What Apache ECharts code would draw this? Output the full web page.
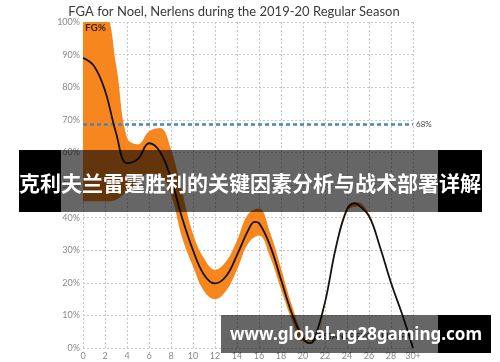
<!DOCTYPE html>
<html>
<head>
<meta charset="utf-8">
<script src="https://cdn.jsdelivr.net/npm/echarts@6/dist/echarts.min.js"></script>
<style>html,body{margin:0;padding:0;background:#fff;}#c{width:500px;height:362px;}</style>
</head>
<body>
<div id="c"></div>
<script>
const titleText = 'FGA for Noel, Nerlens during the 2019-20 Regular Season';
const distances = [0,1,2,3,4,5,6,7,8,9,10,11,12,13,14,15,15.6,16,17,18,19,20,20.6,21,22,23,24,24.7,25,26,27,28,29,30];
const fgPct = [89,86.5,79,66,56.7,58,62.8,60.2,52,40,30,22.5,19.8,22,28.5,36,38.7,38.3,31.5,21,10.5,3,1.5,2.5,14,31,42.5,44.4,44,40.5,31,20,10.5,0];
const bandDistances = ['0','1','2','3','4','5','6','7','8','9','10','11','12','13','14','15','16','17','18','19','20','21','22','23','24','25','26','27','28','29','30'];
const bandUpper = [100,100,102,87,64.5,62.5,66.5,67.5,61,48,35,27.5,24,26.5,33,41,42.8,35.5,24.5,13,4.5,3,14.5,31.5,43,44.6,41,31.4,20.4,10.8,0.3];
const bandLower = [45,45,45,45.5,48,51,53.5,53,47,34,25,17.5,15,17.5,24,32,34.5,28,18,8.5,2,2,13.5,30.5,42,43.4,40,30.6,19.6,10.2,0];
const leagueAvg = 68.5;
const leagueLabel = '68%';
const xTicks = [0,2,4,6,8,10,12,14,16,18,20,22,24,26,28,30];
const xLastLabel = '30+';
const xAxisName = 'DISTANCE FROM RIM (FT)';
const bannerTop = '克利夫兰雷霆胜利的关键因素分析与战术部署详解';
const bannerBottom = 'www.global-ng28gaming.com';

const linePairs = distances.map((d, i) => [d, fgPct[i]]);
const bandWidth = bandUpper.map((u, i) => +(u - bandLower[i]).toFixed(2));

const chart = echarts.init(document.getElementById('c'), null, {renderer: 'canvas'});
const gridLine = {show: true, lineStyle: {color: '#c8c8c8', type: [2, 2], width: 1}};
chart.setOption({
  animation: false,
  title: {
    text: titleText, left: 229, top: 0, textAlign: 'center',
    textStyle: {fontFamily: 'Lato', fontSize: 13, fontWeight: 'normal', color: '#3a3a3a'}
  },
  grid: {left: 83, right: 87, top: 22, bottom: 14, containLabel: false},
  xAxis: [{
    type: 'value', min: 0, max: 30, interval: 2,
    axisLine: {show: false}, axisTick: {show: false},
    axisLabel: {fontFamily: 'Lato', fontSize: 9, color: '#888', margin: 4,
      formatter: v => (v === 30 ? xLastLabel : (xTicks.includes(v) ? String(v) : ''))},
    splitLine: gridLine
  }, {
    type: 'category', data: bandDistances, boundaryGap: false, position: 'bottom',
    axisLine: {show: false}, axisTick: {show: false}, axisLabel: {show: false}, splitLine: {show: false}
  }],
  yAxis: {
    type: 'value', min: 0, max: 100, interval: 10,
    axisLine: {show: false}, axisTick: {show: false},
    axisLabel: {fontFamily: 'Lato', fontSize: 9, color: '#888', margin: 3, formatter: '{value}%'},
    splitLine: gridLine
  },
  series: [
    {type: 'line', xAxisIndex: 1, data: bandLower, stack: 'band', smooth: 0.4, symbol: 'none',
      lineStyle: {width: 0, opacity: 0}, areaStyle: {opacity: 0}, silent: true},
    {type: 'line', xAxisIndex: 1, data: bandWidth, stack: 'band', smooth: 0.4, symbol: 'none',
      lineStyle: {width: 0, opacity: 0}, areaStyle: {color: '#F7861F', opacity: 1}, silent: true,
      markLine: {
        silent: true, symbol: 'none',
        lineStyle: {color: '#4b87b6', type: [4, 3], width: 2.5},
        label: {show: true, position: 'end', formatter: leagueLabel, fontFamily: 'Lato', fontSize: 8, color: '#444', distance: 3},
        data: [{yAxis: leagueAvg}]
      }},
    {type: 'line', xAxisIndex: 0, data: linePairs, smooth: 0.4, symbol: 'none',
      lineStyle: {color: '#141414', width: 1.8}, z: 5}
  ],
  graphic: [
    {type: 'text', left: 85, top: 23, z: 20,
      style: {text: 'FG%', font: 'bold 10px Lato', fill: '#3a2412'}},
    {type: 'text', left: 315, top: 332, z: 20,
      style: {text: xAxisName, font: 'bold 8px Lato', fill: '#555'}},
    {type: 'rect', z: 50, shape: {x: 19, y: 150, width: 42, height: 62}, style: {fill: '#000'}},
    {type: 'rect', z: 50, shape: {x: 61, y: 150, width: 377, height: 62}, style: {fill: 'rgba(0,0,0,0.6)'}},
    {type: 'rect', z: 50, shape: {x: 438, y: 150, width: 44, height: 62}, style: {fill: '#000'}},
    {type: 'text', z: 60, x: 250, y: 183,
      style: {text: bannerTop, font: 'bold 21px "Noto Sans CJK SC"', fill: '#fff', textAlign: 'center', textVerticalAlign: 'middle'}},
    {type: 'rect', z: 50, shape: {x: 221, y: 315, width: 217, height: 38}, style: {fill: 'rgba(0,0,0,0.6)'}},
    {type: 'rect', z: 50, shape: {x: 438, y: 315, width: 53, height: 38}, style: {fill: '#000'}},
    {type: 'text', z: 60, x: 356, y: 335,
      style: {text: bannerBottom, font: 'bold 17px "Noto Sans"', fill: '#fff', textAlign: 'center', textVerticalAlign: 'middle'}}
  ]
});
</script>
</body>
</html>
